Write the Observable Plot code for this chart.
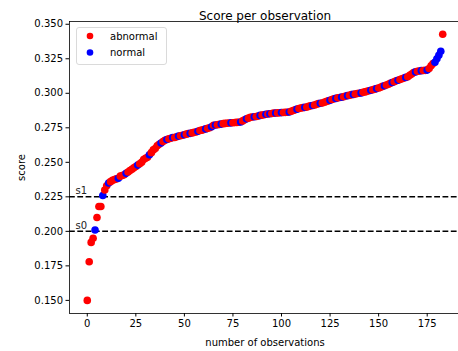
<!DOCTYPE html>
<html><head><meta charset="utf-8">
<script src="https://cdn.jsdelivr.net/npm/d3@7"></script>
<script src="https://cdn.jsdelivr.net/npm/@observablehq/plot@0.6"></script>
<style>body{margin:0;background:#fff}</style>
</head><body><div id="chart"></div>
<script>
// score of each observation, sorted (index = observation number)
const scores = [
  0.150, 0.178, 0.192, 0.195, 0.201, 0.210, 0.218, 0.218, 0.226, 0.230,
  0.233, 0.235, 0.236, 0.237, 0.2375, 0.238, 0.2385, 0.240, 0.2405, 0.241,
  0.242, 0.243, 0.244, 0.245, 0.246, 0.247, 0.248, 0.249, 0.250, 0.252,
  0.253, 0.2536, 0.2555, 0.257, 0.259, 0.260, 0.262, 0.263, 0.264, 0.265,
  0.266, 0.2665, 0.267, 0.2674, 0.268, 0.268, 0.2685, 0.269, 0.2692, 0.2696,
  0.270, 0.2704, 0.2708, 0.271, 0.2713, 0.2717, 0.272, 0.2725, 0.273, 0.2733,
  0.2738, 0.2742, 0.2746, 0.275, 0.2758, 0.2768, 0.277, 0.2772, 0.2775, 0.2777,
  0.278, 0.2782, 0.2783, 0.2785, 0.2786, 0.2787, 0.2788, 0.2789, 0.279, 0.2792,
  0.280, 0.2808, 0.2815, 0.282, 0.2826, 0.2828, 0.283, 0.2832, 0.2835, 0.284,
  0.2842, 0.2845, 0.2848, 0.285, 0.2852, 0.2854, 0.2856, 0.2857, 0.2858, 0.2859,
  0.286, 0.2861, 0.2862, 0.2863, 0.2865, 0.287, 0.2875, 0.288, 0.2885, 0.289,
  0.2893, 0.2896, 0.2898, 0.290, 0.2905, 0.291, 0.2912, 0.2915, 0.292, 0.2925,
  0.2928, 0.293, 0.2935, 0.294, 0.2945, 0.295, 0.2955, 0.296, 0.2963, 0.2967,
  0.297, 0.2972, 0.2975, 0.298, 0.2983, 0.2986, 0.299, 0.2992, 0.2995, 0.2998,
  0.300, 0.3003, 0.3007, 0.301, 0.3014, 0.3018, 0.3022, 0.3026, 0.303, 0.3034,
  0.3038, 0.3043, 0.305, 0.3055, 0.306, 0.3066, 0.3072, 0.3078, 0.3084, 0.309,
  0.3095, 0.310, 0.3105, 0.311, 0.3115, 0.312, 0.313, 0.314, 0.315, 0.3155,
  0.316, 0.3162, 0.3164, 0.3165, 0.3166, 0.3168, 0.318, 0.320, 0.3215, 0.3225,
  0.325, 0.3275, 0.3304, 0.3428
];
// observations labelled "normal" (all others are "abnormal")
const normalObs = [4, 8, 11, 16, 20, 26, 32, 38, 41, 44, 47, 50, 53, 57, 61, 64, 66, 69,
  74, 79, 82, 86, 89, 92, 94, 97, 100, 104, 108, 112, 116, 120, 125, 128, 131, 134,
  137, 141, 146, 149, 153, 157, 160, 164, 169, 172, 175, 179, 180, 181, 182];
const thresholds = [0.200, 0.225];
const thresholdLabels = ["s0", "s1"];
const xTicks = [0, 25, 50, 75, 100, 125, 150, 175];
const yTicks = [0.150, 0.175, 0.200, 0.225, 0.250, 0.275, 0.300, 0.325, 0.350];
const legendLabels = ["abnormal", "normal"];
const legendColors = ["red", "blue"];

const data = scores.map((s, i) => ({obs: i, score: s, cls: normalObs.includes(i) ? "normal" : "abnormal"}));
const colorOf = c => legendColors[legendLabels.indexOf(c)];

const plot = Plot.plot({
  width: 458, height: 351,
  marginLeft: 69, marginRight: -2, marginTop: 21, marginBottom: 38,
  style: {fontFamily: "DejaVu Sans", fontSize: "10px", background: "white", color: "black", overflow: "hidden"},
  x: {domain: [-9.15, 192.15]},
  y: {domain: [0.1405, 0.352]},
  marks: [
    Plot.axisX({ticks: xTicks, tickFormat: "d", tickSize: 3.5, tickPadding: 3, label: "number of observations",
      labelAnchor: "center", labelArrow: "none", labelOffset: 32, fill: "black"}),
    Plot.axisY({ticks: yTicks, tickFormat: ".3f", tickSize: 3.5, tickPadding: 3, label: "score",
      labelAnchor: "center", labelArrow: "none", labelOffset: 52, fill: "black"}),
    Plot.ruleY(thresholds, {y: d => d, stroke: "black", strokeWidth: 1.5, strokeDasharray: "5.8,2.5"}),
    Plot.text(thresholds, {y: d => d, text: (d, i) => thresholdLabels[i], frameAnchor: "left",
      textAnchor: "start", dx: 6, dy: -6, fill: "#222", fontSize: 10}),
    Plot.dot(data, {x: "obs", y: "score", r: 3.8, fill: d => colorOf(d.cls), stroke: "none"}),
    Plot.frame({stroke: "black", strokeWidth: 0.8}),
    Plot.text(["Score per observation"], {text: d => d, frameAnchor: "top", dy: -10, fontSize: 12, fill: "black"})
  ]
});
document.getElementById("chart").appendChild(plot);

// legend inside the axes (upper left)
const svg = d3.select(plot);
const lg = svg.append("g").attr("font-family", "DejaVu Sans").attr("font-size", 10).attr("text-anchor", "start");
lg.append("rect").attr("x", 76.5).attr("y", 27.5).attr("width", 90).attr("height", 37)
  .attr("rx", 2.5).attr("fill", "white").attr("fill-opacity", 0.8).attr("stroke", "#d0d0d0").attr("stroke-width", 0.8);
legendLabels.forEach((lab, i) => {
  lg.append("circle").attr("cx", 90).attr("cy", 36 + i * 16.5).attr("r", 3.3).attr("fill", legendColors[i]);
  lg.append("text").attr("x", 110).attr("y", 36 + i * 16.5).attr("dy", "0.35em")
    .attr("text-anchor", "start").attr("fill", "black").text(lab);
});
</script>
</body></html>
